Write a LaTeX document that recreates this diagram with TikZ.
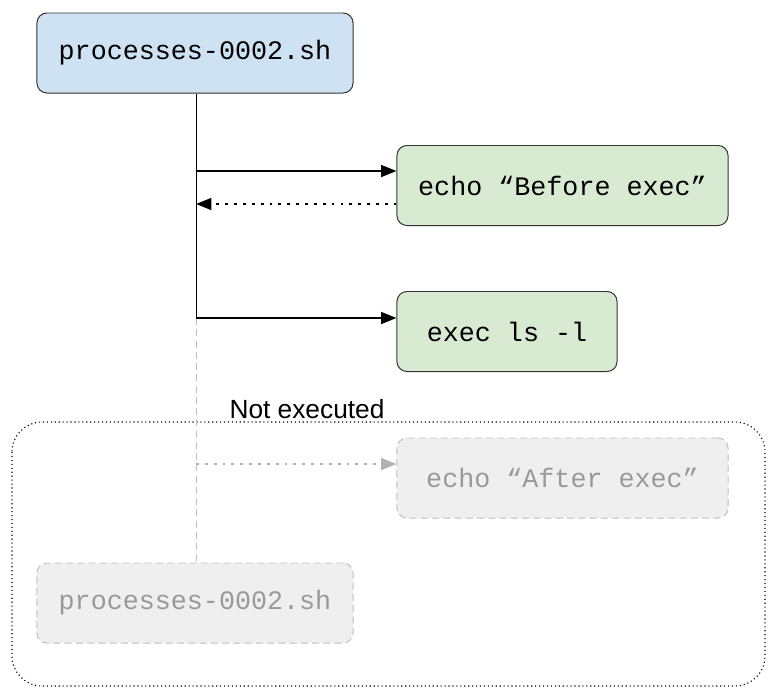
\documentclass[tikz,border=0pt]{standalone}
\usepackage{fontspec}
\setmainfont{Liberation Sans}
\setmonofont{Liberation Mono}
\usetikzlibrary{arrows.meta}
\definecolor{scriptblue}{HTML}{CFE2F3}
\definecolor{cmdgreen}{HTML}{D9EAD3}
\definecolor{ghostgray}{HTML}{EFEFEF}

\begin{document}
\begin{tikzpicture}[x=0.025cm, y=-0.025cm,
    box/.style={rectangle, rounded corners=0.25cm, draw=black!80, line width=0.7pt, minimum height=2cm, font=\ttfamily\fontsize{19}{22}\selectfont},
    ghost/.style={box, draw=black!25, dash pattern=on 5pt off 3pt, fill=ghostgray, text=black!40},
    call/.style={-{Triangle[length=11pt, width=8.5pt]}, line width=1.4pt},
    reply/.style={call, dash pattern=on 2pt off 4.3pt}]
    \useasboundingbox (0,0) rectangle (780,693);

    % Script process
    \node[box, fill=scriptblue, minimum width=7.9cm] (TOP) at (195,53) {processes-0002.sh};

    % Commands
    \node[box, fill=cmdgreen, minimum width=8.275cm] (ECHO1) at (562.5,185.5) {echo “Before exec”};
    \node[box, fill=cmdgreen, minimum width=5.5cm] (EXEC) at (507,331.5) {exec ls -l};

    % Not executed part
    \draw[dotted, line width=0.8pt, rounded corners=0.75cm] (12,422) rectangle (765,686);
    \node[font=\fontsize{18.7}{22}\selectfont] (NOTEX) at (307,409) {Not executed};
    \node[ghost, minimum width=8.275cm] (ECHO2) at (562.5,478) {echo “After exec”};
    \node[ghost, minimum width=7.9cm] (BOT) at (195,603) {processes-0002.sh};

    % Timeline
    \coordinate (J1) at (196,171);
    \coordinate (J2) at (196,204);
    \coordinate (J3) at (196,318);
    \coordinate (J4) at (196,464);
    \draw[line width=0.7pt] (TOP.south -| J1) -- (J3);
    \draw[draw=black!25, line width=0.7pt, dash pattern=on 5pt off 3pt] (J3) -- (BOT.north -| J3);

    % Calls and returns
    \draw[call] (J1) -- (ECHO1.west |- J1);
    \draw[reply] (ECHO1.west |- J2) -- (J2);
    \draw[call] (J3) -- (EXEC.west |- J3);
    \draw[reply, black!30] (J4) -- (ECHO2.west |- J4);
\end{tikzpicture}
\end{document}
